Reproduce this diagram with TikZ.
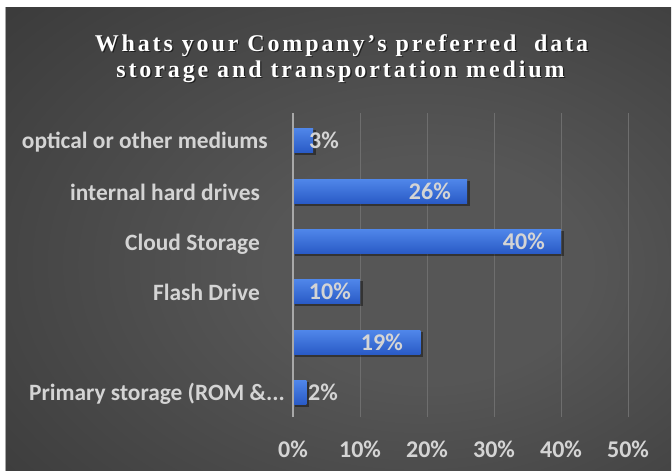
\documentclass[tikz,border=0pt]{standalone}
\usepackage{fontspec}
\setmainfont{Carlito}
\newfontfamily\titlefont{Liberation Serif}[LetterSpace=12]
\definecolor{bgmid}{HTML}{565656}
\definecolor{bgedge}{HTML}{262626}
\definecolor{gridc}{HTML}{6E6E6E}
\definecolor{axisc}{HTML}{A8A8A8}
\definecolor{bartop}{HTML}{5087EA}
\definecolor{barbot}{HTML}{2A5BC6}
\definecolor{labelc}{HTML}{D4D4D4}
\pgfdeclareradialshading{bgglow}{\pgfpoint{8bp}{-4bp}}{color(0bp)=(bgmid); color(12bp)=(bgmid); color(62bp)=(bgedge); color(80bp)=(bgedge)}
\begin{document}
\begin{tikzpicture}[x=1pt,y=-1pt,
  cat/.style={anchor=base east,inner sep=0pt,text=labelc,font=\bfseries\fontsize{23.4}{26}\selectfont},
  val/.style={inner sep=0pt,text=labelc,font=\bfseries\fontsize{24}{26}\selectfont},
  tick/.style={anchor=base,inner sep=0pt,text=labelc,font=\bfseries\fontsize{24}{26}\selectfont},
  ttl/.style={anchor=base,inner sep=0pt,text=white,font=\titlefont\bfseries\fontsize{24}{26}\selectfont},
  ttlshadow/.style={anchor=base,inner sep=0pt,text=black,opacity=.55,font=\titlefont\bfseries\fontsize{24}{26}\selectfont},
  gridline/.style={draw=gridc,line width=0.8pt},
  barfill/.style={top color=bartop,bottom color=barbot},
  barshadow/.style={fill=black,opacity=.4}]
\useasboundingbox (0,0) rectangle (672,471);
% page and chart area
\fill[white] (0,0) rectangle (672,471);
\shade[shading=bgglow] (5,7) rectangle (671,471);
\draw[gray!70,line width=0.8pt] (5.4,7) -- (5.4,471);

% title
\node[ttlshadow] (t1s) at (342.8,52.5) {Whats your Company’s preferred\ \ data};
\node[ttlshadow] (t2s) at (341.8,78.5) {storage and transportation medium};
\node[ttl] (t1) at (341.5,51) {Whats your Company’s preferred\ \ data};
\node[ttl] (t2) at (340.5,77) {storage and transportation medium};

% vertical gridlines every 10%
\foreach \k in {1,...,5}
  \draw[gridline] (293+67*\k,113) -- (293+67*\k,417);

% bars: value / vertical centre
\foreach \v/\y in {3/140,26/191,40/241,10/291,19/342,2/392} {
  \fill[barshadow] (295,\y-10) rectangle (293+6.7*\v+2.5,\y+15);
  \fill[barfill] (293,\y-12) rectangle (293+6.7*\v,\y+12);
}

% value axis
\draw[axisc,line width=1.4pt] (293,113) -- (293,417);

% category labels
\node[cat] (c1) at (268,148) {optical or other mediums};
\node[cat] (c2) at (260,200) {internal hard drives};
\node[cat] (c3) at (260,250) {Cloud Storage};
\node[cat] (c4) at (260,300) {Flash Drive};
\node[cat] (c6) at (285,400) {Primary storage (ROM \&...};

% data labels
\node[val,anchor=base west] (v1) at (309,148) {3\%};
\node[val,anchor=base east] (v2) at (451,199) {26\%};
\node[val,anchor=base east] (v3) at (545,249) {40\%};
\node[val,anchor=base east] (v4) at (351,299) {10\%};
\node[val,anchor=base east] (v5) at (403,350) {19\%};
\node[val,anchor=base west] (v6) at (308,400) {2\%};

% tick labels
\foreach \k in {0,...,5}
  \node[tick] (x\k) at (293+67*\k,457) {\the\numexpr 10*\k\relax\%};
\end{tikzpicture}
\end{document}
